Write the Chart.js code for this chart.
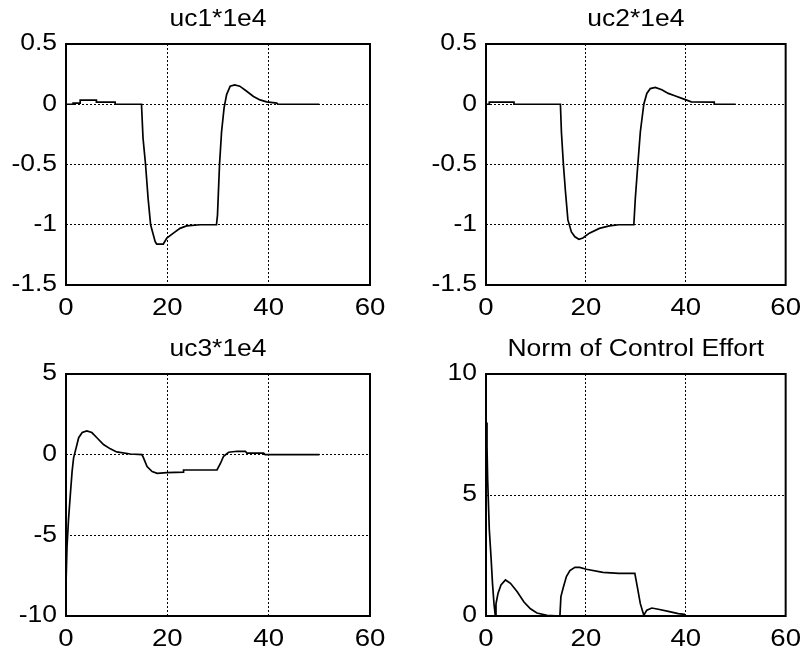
<!DOCTYPE html>
<html>
<head>
<meta charset="utf-8">
<script src="https://cdn.jsdelivr.net/npm/chart.js@4.4.1/dist/chart.umd.min.js"></script>
<style>
  html, body { margin: 0; padding: 0; background: #fff; }
  body { width: 808px; height: 655px; position: relative; overflow: hidden; }
  canvas { position: absolute; }
</style>
</head>
<body>
<canvas id="c1" width="404" height="327" style="left:0;top:0;width:404px;height:327px"></canvas>
<canvas id="c2" width="404" height="327" style="left:404px;top:0;width:404px;height:327px"></canvas>
<canvas id="c3" width="404" height="328" style="left:0;top:327px;width:404px;height:328px"></canvas>
<canvas id="c4" width="404" height="328" style="left:404px;top:327px;width:404px;height:328px"></canvas>
<script>
// ---- data ----
const titles = ["uc1*1e4", "uc2*1e4", "uc3*1e4", "Norm of Control Effort"];
const xTicks = [0, 20, 40, 60];

const uc1T = [0,1.4,1.4,2.8,2.8,6,6,9.7,9.7,14.9,15.2,15.7,16.2,16.7,17.6,17.9,19.2,19.9,21.2,22.5,23.8,26.5,29.7,29.9,30.3,30.7,31.2,31.7,32.4,33.3,34.3,35.6,37,38.3,39.6,41.6,41.8,50];
const uc1V = [0,0,0.01,0.01,0.035,0.035,0.018,0.018,0,0,-0.28,-0.5,-0.78,-1.0,-1.14,-1.16,-1.16,-1.11,-1.07,-1.03,-1.01,-1.0,-1.0,-0.92,-0.5,-0.23,-0.03,0.08,0.15,0.16,0.15,0.11,0.064,0.036,0.02,0.01,0,0];

const uc2T = [0,0.66,0.66,5.6,5.6,14.9,15.1,15.5,15.9,16.4,17.1,17.8,18.6,19.4,20.7,22.7,24.7,26.6,29.6,29.9,30.4,30.9,31.6,32.2,32.9,33.9,35.2,36.5,37.8,39.5,41.1,45.7,45.7,50];
const uc2V = [0,0,0.017,0.017,0,0,-0.23,-0.5,-0.72,-0.96,-1.06,-1.1,-1.12,-1.11,-1.07,-1.03,-1.01,-1.0,-1.0,-0.78,-0.5,-0.23,0,0.09,0.13,0.14,0.12,0.09,0.07,0.045,0.02,0.017,0,0];

const uc3T = [0,0.2,0.5,0.85,1.2,1.5,2.0,2.5,3.2,4.1,5.1,6.1,7.4,8.75,10,12.7,15,15.3,16,17,18,19.9,23.2,23.2,29.8,30.5,31.1,32.1,33.8,35.4,35.7,39,39.3,50];
const uc3V = [-8,-5.7,-4.0,-2.5,-1.05,-0.2,0.42,1.05,1.37,1.47,1.37,1.05,0.63,0.36,0.17,0.04,0,-0.2,-0.74,-1.05,-1.16,-1.11,-1.08,-0.95,-0.95,-0.53,-0.1,0.15,0.21,0.21,0.1,0.1,0,0];

const normT = [0,0.2,0.33,0.66,1.0,1.3,1.6,1.85,2.0,2.4,3.0,3.9,4.9,6.25,7.6,8.9,10.2,12.2,14.8,15.0,15.5,16.1,16.8,17.8,18.75,20.1,23.4,26.6,29.8,30.3,30.9,31.6,32.2,33.2,34.5,36.5,38.5,39.7,39.8,50];
const normV = [8.0,7.0,5.65,3.57,2.46,1.35,0.51,0.03,0.5,0.93,1.28,1.49,1.35,1.0,0.58,0.3,0.125,0.03,0,0.8,1.2,1.63,1.88,2.01,2.01,1.93,1.8,1.76,1.76,1.2,0.51,0.03,0.24,0.33,0.28,0.19,0.1,0.07,0,0];

const yTicks1 = [-1.5, -1, -0.5, 0, 0.5];
const yTicks2 = [-1.5, -1, -0.5, 0, 0.5];
const yTicks3 = [-10, -5, 0, 5];
const yTicks4 = [0, 5, 10];

// ---- drawing ----
const FONT = "'Liberation Sans', Arial, Helvetica, sans-serif";
const FONT_SIZE = 23;
const TEXT_SX = 1.15;   // reference text is rendered slightly wide

function widenText(ctx, sx) {
  const orig = ctx.fillText;
  ctx.fillText = function (text, x, y, maxWidth) {
    this.save();
    this.translate(x, y);
    this.scale(sx, 1);
    if (maxWidth !== undefined) orig.call(this, text, 0, 0, maxWidth / sx);
    else orig.call(this, text, 0, 0);
    this.restore();
  };
}

const boxPlugin = {
  id: 'box',
  afterDraw(chart) {
    const a = chart.chartArea, ctx = chart.ctx;
    ctx.save();
    ctx.strokeStyle = '#000';
    ctx.lineWidth = 2;
    ctx.setLineDash([]);
    ctx.strokeRect(a.left, a.top, a.right - a.left, a.bottom - a.top);
    ctx.restore();
  }
};

function makeChart(id, title, tArr, vArr, yTickVals, geo) {
  const pts = tArr.map((t, i) => ({x: t, y: vArr[i]}));
  const yMin = yTickVals[0], yMax = yTickVals[yTickVals.length - 1];
  const canvas = document.getElementById(id);
  widenText(canvas.getContext('2d'), TEXT_SX);
  return new Chart(canvas, {
    type: 'line',
    data: { datasets: [{ data: pts, borderColor: '#000', borderWidth: 1.7, pointRadius: 0, tension: 0, fill: false }] },
    plugins: [boxPlugin],
    options: {
      responsive: false,
      animation: false,
      devicePixelRatio: 1,
      events: [],
      layout: { padding: { left: 0, right: geo.padR, top: 0, bottom: 0 } },
      plugins: {
        legend: { display: false },
        tooltip: { enabled: false },
        title: {
          display: true, text: title, color: '#000', fullSize: false,
          font: { family: FONT, size: FONT_SIZE, weight: 'normal', lineHeight: 1.2 },
          padding: { top: geo.titleTop, bottom: geo.titleBottom }
        }
      },
      scales: {
        x: {
          type: 'linear', min: xTicks[0], max: xTicks[xTicks.length - 1],
          afterBuildTicks: s => { s.ticks = xTicks.map(v => ({value: v})); },
          afterFit: s => { s.height = geo.xH; },
          ticks: { color: '#000', font: { family: FONT, size: FONT_SIZE + 1 }, padding: 9, maxRotation: 0, autoSkip: false },
          grid: { color: '#000', lineWidth: 1, drawTicks: false },
          border: { display: false, dash: [2, 2] }
        },
        y: {
          type: 'linear', min: yMin, max: yMax,
          afterBuildTicks: s => { s.ticks = yTickVals.map(v => ({value: v})); },
          afterFit: s => { s.width = geo.yW; },
          ticks: { color: '#000', font: { family: FONT, size: FONT_SIZE }, padding: 9, autoSkip: false,
                   callback: v => String(v) },
          grid: { color: '#000', lineWidth: 1, drawTicks: false },
          border: { display: false, dash: [2, 2] }
        }
      }
    }
  });
}

const topGeo = { padR: 34, titleTop: 6, titleBottom: 10.4, xH: 42, yW: 66 };
const topGeoR = { padR: 18, titleTop: 6, titleBottom: 10.4, xH: 42, yW: 82 };
const botGeo = { padR: 34, titleTop: 9, titleBottom: 10.4, xH: 39, yW: 66 };
const botGeoR = { padR: 18, titleTop: 9, titleBottom: 10.4, xH: 39, yW: 82 };

makeChart('c1', titles[0], uc1T, uc1V, yTicks1, topGeo);
makeChart('c2', titles[1], uc2T, uc2V, yTicks2, topGeoR);
makeChart('c3', titles[2], uc3T, uc3V, yTicks3, botGeo);
makeChart('c4', titles[3], normT, normV, yTicks4, botGeoR);
</script>
</body>
</html>
